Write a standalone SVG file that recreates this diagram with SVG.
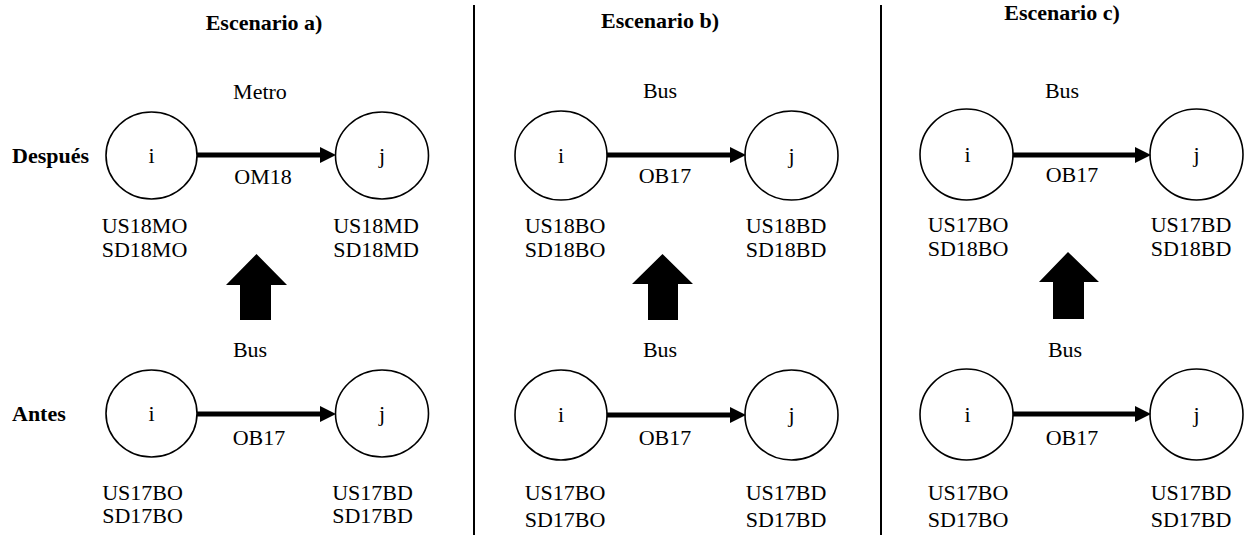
<svg xmlns="http://www.w3.org/2000/svg" width="1245" height="535" viewBox="0 0 1245 535" font-family="'Liberation Serif', 'Times New Roman', 'DejaVu Serif', serif">
<style>
text{font-family:'Liberation Serif','Times New Roman','DejaVu Serif',serif;font-size:22px;fill:#000}
.b{font-weight:bold}
.m{text-anchor:middle}
.n{fill:#fff;stroke:#000;stroke-width:1.6}
.e{stroke:#000;stroke-width:5;fill:none}
.h{fill:#000}
.d{stroke:#000;stroke-width:2}
</style>
<rect width="1245" height="535" fill="#fff"/>
<g id="dividers">
<line class="d" x1="474" y1="5" x2="474" y2="535"/>
<line class="d" x1="881" y1="5" x2="881" y2="535"/>
</g>
<g id="titles">
<text class="b m" x="264" y="30">Escenario a)</text>
<text class="b m" x="660" y="28">Escenario b)</text>
<text class="b m" x="1062" y="20">Escenario c)</text>
<text class="b" x="12" y="163">Después</text>
<text class="b" x="12" y="421">Antes</text>
</g>
<g id="a-top-i"><ellipse class="n" cx="151.5" cy="155.5" rx="45.5" ry="43.5"/><text class="m" x="151.5" y="163">i</text><text class="m" x="144.5" y="233">US18MO</text><text class="m" x="144.5" y="257">SD18MO</text></g>
<g id="a-top-j"><ellipse class="n" cx="382" cy="155.5" rx="46.5" ry="43.5"/><text class="m" x="382" y="163">j</text><text class="m" x="376" y="233">US18MD</text><text class="m" x="376" y="257">SD18MD</text></g>
<g id="a-bot-i"><ellipse class="n" cx="151.5" cy="413.5" rx="45.5" ry="43.5"/><text class="m" x="151.5" y="421">i</text><text class="m" x="142.5" y="500">US17BO</text><text class="m" x="142.5" y="523">SD17BO</text></g>
<g id="a-bot-j"><ellipse class="n" cx="382" cy="413.5" rx="46.5" ry="43.5"/><text class="m" x="382" y="421">j</text><text class="m" x="372.5" y="500">US17BD</text><text class="m" x="372.5" y="523">SD17BD</text></g>
<g id="b-top-i"><ellipse class="n" cx="561" cy="155.5" rx="46" ry="44.5"/><text class="m" x="561" y="163">i</text><text class="m" x="565" y="233">US18BO</text><text class="m" x="565" y="257">SD18BO</text></g>
<g id="b-top-j"><ellipse class="n" cx="791.5" cy="155.5" rx="46.5" ry="44.5"/><text class="m" x="791.5" y="163">j</text><text class="m" x="786" y="233">US18BD</text><text class="m" x="786" y="257">SD18BD</text></g>
<g id="b-bot-i"><ellipse class="n" cx="561" cy="415" rx="46" ry="45"/><text class="m" x="561" y="422">i</text><text class="m" x="565" y="500">US17BO</text><text class="m" x="565" y="527">SD17BO</text></g>
<g id="b-bot-j"><ellipse class="n" cx="791.5" cy="415" rx="46.5" ry="45"/><text class="m" x="791.5" y="422">j</text><text class="m" x="786" y="500">US17BD</text><text class="m" x="786" y="527">SD17BD</text></g>
<g id="c-top-i"><ellipse class="n" cx="966.5" cy="154.5" rx="46.5" ry="45.5"/><text class="m" x="967.5" y="162">i</text><text class="m" x="968" y="232">US17BO</text><text class="m" x="968" y="256">SD18BO</text></g>
<g id="c-top-j"><ellipse class="n" cx="1196.5" cy="154.5" rx="46.5" ry="45.5"/><text class="m" x="1196.5" y="162">j</text><text class="m" x="1191" y="232">US17BD</text><text class="m" x="1191" y="256">SD18BD</text></g>
<g id="c-bot-i"><ellipse class="n" cx="966.5" cy="414.5" rx="46.5" ry="45.5"/><text class="m" x="967.5" y="422">i</text><text class="m" x="968" y="500">US17BO</text><text class="m" x="968" y="527">SD17BO</text></g>
<g id="c-bot-j"><ellipse class="n" cx="1196.5" cy="414.5" rx="46.5" ry="45.5"/><text class="m" x="1196.5" y="422">j</text><text class="m" x="1191" y="500">US17BD</text><text class="m" x="1191" y="527">SD17BD</text></g>
<g id="connectors">
<line class="e" x1="197" y1="155" x2="322" y2="155"/><polygon class="h" points="320,147 336,155 320,163"/>
<line class="e" x1="197" y1="414" x2="322" y2="414"/><polygon class="h" points="320,406 336,414 320,422"/>
<line class="e" x1="607" y1="155" x2="732" y2="155"/><polygon class="h" points="730,147 746,155 730,163"/>
<line class="e" x1="607" y1="415" x2="732" y2="415"/><polygon class="h" points="730,407 746,415 730,423"/>
<line class="e" x1="1013" y1="155" x2="1137" y2="155"/><polygon class="h" points="1135,147 1151,155 1135,163"/>
<line class="e" x1="1013" y1="414" x2="1137" y2="414"/><polygon class="h" points="1135,406 1151,414 1135,422"/>
<polygon class="h" points="256.5,254 287,285 271,285 271,320 240,320 240,285 226,285"/>
<polygon class="h" points="662.5,254 693,284 678,284 678,320 648,320 648,284 632,284"/>
<polygon class="h" points="1068,252 1099,282 1084,282 1084,319 1053,319 1053,282 1039,282"/>
</g>
<g id="labels">
<text class="m" x="260" y="99">Metro</text>
<text class="m" x="263" y="184">OM18</text>
<text class="m" x="250" y="357">Bus</text>
<text class="m" x="259" y="445">OB17</text>
<text class="m" x="660" y="98">Bus</text>
<text class="m" x="665" y="183">OB17</text>
<text class="m" x="660" y="357">Bus</text>
<text class="m" x="665" y="445">OB17</text>
<text class="m" x="1062" y="98">Bus</text>
<text class="m" x="1072" y="182">OB17</text>
<text class="m" x="1065" y="357">Bus</text>
<text class="m" x="1072" y="445">OB17</text>
</g>
</svg>
